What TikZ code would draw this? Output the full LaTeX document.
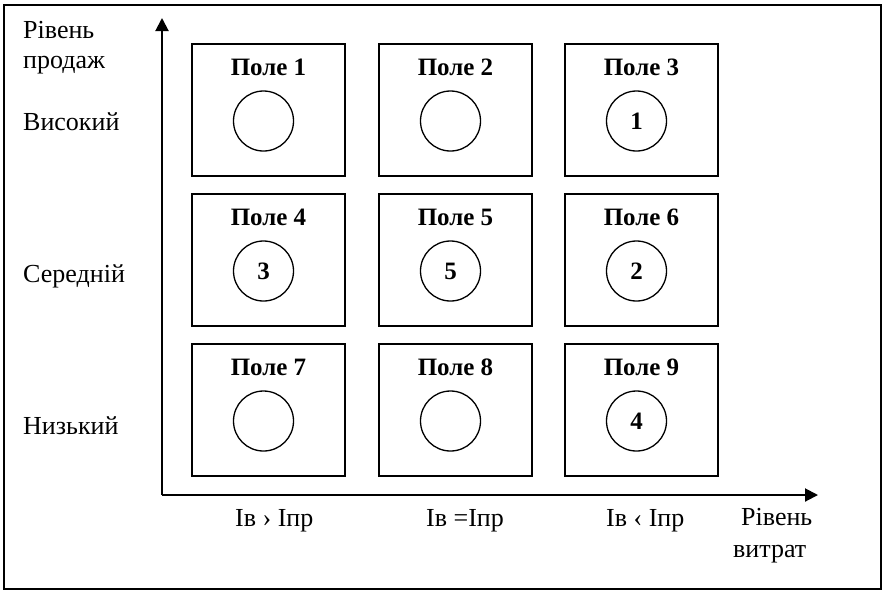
\documentclass[tikz,border=0pt]{standalone}
\usepackage{fontspec}
\setmainfont{Liberation Serif}
\usetikzlibrary{arrows.meta}
\begin{document}
\begin{tikzpicture}[x=1pt,y=-1pt,
  field/.style={draw, line width=2pt, minimum width=153pt, minimum height=132pt, inner sep=0pt},
  ftitle/.style={font=\fontsize{25}{30}\selectfont\bfseries, anchor=base, inner sep=0pt},
  ring/.style={draw, circle, line width=1.3pt, minimum size=60pt, inner sep=0pt, font=\fontsize{25}{30}\selectfont\bfseries},
  lbl/.style={font=\fontsize{26}{30}\selectfont, anchor=base west, inner sep=0pt},
  axis/.style={line width=2pt, -{Triangle[length=13pt,width=13pt]}}
]
\useasboundingbox (0,0) rectangle (882,590);
\draw[line width=2pt] (4,5) rectangle (880.5,589);

% fields
\node[field] (f1) at (268.5,110) {};
\node[field] (f2) at (455.5,110) {};
\node[field] (f3) at (641.5,110) {};
\node[field] (f4) at (268.5,260) {};
\node[field] (f5) at (455.5,260) {};
\node[field] (f6) at (641.5,260) {};
\node[field] (f7) at (268.5,410) {};
\node[field] (f8) at (455.5,410) {};
\node[field] (f9) at (641.5,410) {};

% titles
\node[ftitle] (t1) at (268.5,75) {Поле 1};
\node[ftitle] (t2) at (455.5,75) {Поле 2};
\node[ftitle] (t3) at (641.5,75) {Поле 3};
\node[ftitle] (t4) at (268.5,225) {Поле 4};
\node[ftitle] (t5) at (455.5,225) {Поле 5};
\node[ftitle] (t6) at (641.5,225) {Поле 6};
\node[ftitle] (t7) at (268.5,375) {Поле 7};
\node[ftitle] (t8) at (455.5,375) {Поле 8};
\node[ftitle] (t9) at (641.5,375) {Поле 9};

% circles
\node[ring] (c1) at (263.5,121) {};
\node[ring] (c2) at (450.5,121) {};
\node[ring] (c3) at (636.5,121) {1};
\node[ring] (c4) at (263.5,271) {3};
\node[ring] (c5) at (450.5,271) {5};
\node[ring] (c6) at (636.5,271) {2};
\node[ring] (c7) at (263.5,421) {};
\node[ring] (c8) at (450.5,421) {};
\node[ring] (c9) at (636.5,421) {4};

% axes
\coordinate (o) at (162,495);
\coordinate (ytip) at (162,18);
\coordinate (xtip) at (818,495);
\draw[axis] (o) -- (ytip);
\draw[axis] (o) -- (xtip);

% left labels
\node[lbl] (ya) at (23,38) {Рівень};
\node[lbl] (yb) at (23,68) {продаж};
\node[lbl] (yh) at (23,130) {Високий};
\node[lbl] (ym) at (23,282) {Середній};
\node[lbl] (yl) at (23,434) {Низький};

% bottom labels
\node[lbl] (x1) at (235,526) {Ів › Іпр};
\node[lbl] (x2) at (426,526) {Ів =Іпр};
\node[lbl] (x3) at (606,526) {Ів ‹ Іпр};
\node[lbl] (xa) at (741,525) {Рівень};
\node[lbl] (xb) at (733,557) {витрат};
\end{tikzpicture}
\end{document}
